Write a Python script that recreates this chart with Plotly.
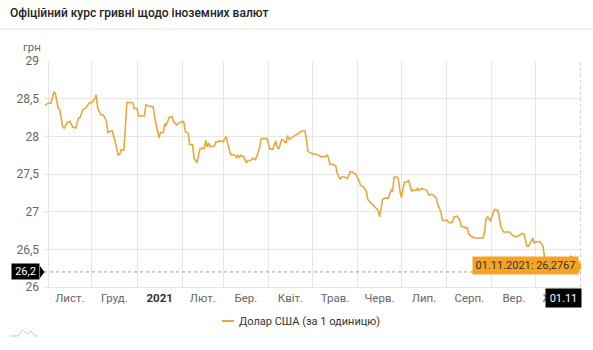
import plotly.graph_objects as go

# --- data: official UAH/USD rate ---
dates = [
    "2020-10-30", "2020-11-01", "2020-11-03", "2020-11-05", "2020-11-06", "2020-11-08",
    "2020-11-09", "2020-11-11", "2020-11-12", "2020-11-14", "2020-11-16", "2020-11-18",
    "2020-11-20", "2020-11-22", "2020-11-23", "2020-11-25", "2020-11-27", "2020-11-29",
    "2020-12-01", "2020-12-03", "2020-12-04", "2020-12-05", "2020-12-07", "2020-12-09",
    "2020-12-11", "2020-12-12", "2020-12-14", "2020-12-15", "2020-12-17", "2020-12-19",
    "2020-12-20", "2020-12-21", "2020-12-23", "2020-12-24", "2020-12-25", "2020-12-29",
    "2020-12-30", "2021-01-01", "2021-01-02", "2021-01-06", "2021-01-07", "2021-01-08",
    "2021-01-12", "2021-01-13", "2021-01-14", "2021-01-16", "2021-01-17", "2021-01-19",
    "2021-01-20", "2021-01-21", "2021-01-23", "2021-01-25", "2021-01-26", "2021-01-28",
    "2021-01-29", "2021-02-01", "2021-02-02", "2021-02-03", "2021-02-05", "2021-02-06",
    "2021-02-08", "2021-02-09", "2021-02-11", "2021-02-13", "2021-02-14", "2021-02-16",
    "2021-02-17", "2021-02-18", "2021-02-19", "2021-02-20", "2021-02-23", "2021-02-24",
    "2021-02-25", "2021-02-26", "2021-03-01", "2021-03-03", "2021-03-04", "2021-03-06",
    "2021-03-09", "2021-03-10", "2021-03-11", "2021-03-12", "2021-03-13", "2021-03-15",
    "2021-03-17", "2021-03-18", "2021-03-20", "2021-03-21", "2021-03-23", "2021-03-24",
    "2021-03-26", "2021-03-27", "2021-03-31", "2021-04-01", "2021-04-02", "2021-04-04",
    "2021-04-06", "2021-04-07", "2021-04-08", "2021-04-10", "2021-04-11", "2021-04-13",
    "2021-04-14", "2021-04-15", "2021-04-17", "2021-04-19", "2021-04-21", "2021-04-22",
    "2021-04-24", "2021-04-26", "2021-04-27", "2021-04-28", "2021-04-30", "2021-05-01",
    "2021-05-04", "2021-05-07", "2021-05-10", "2021-05-11", "2021-05-12", "2021-05-13",
    "2021-05-15", "2021-05-17", "2021-05-18", "2021-05-20", "2021-05-21", "2021-05-23",
    "2021-05-25", "2021-05-27", "2021-05-29", "2021-05-31", "2021-06-02", "2021-06-03",
    "2021-06-05", "2021-06-07", "2021-06-08", "2021-06-10", "2021-06-12", "2021-06-15",
    "2021-06-16", "2021-06-17", "2021-06-18", "2021-06-20", "2021-06-22", "2021-06-24",
    "2021-06-25", "2021-06-26", "2021-06-28", "2021-06-29", "2021-06-30", "2021-07-01",
    "2021-07-02", "2021-07-03", "2021-07-04", "2021-07-06", "2021-07-08", "2021-07-09",
    "2021-07-11", "2021-07-12", "2021-07-13", "2021-07-15", "2021-07-16", "2021-07-18",
    "2021-07-20", "2021-07-22", "2021-07-24", "2021-07-25", "2021-07-26", "2021-07-28",
    "2021-07-29", "2021-07-31", "2021-08-01", "2021-08-03", "2021-08-05", "2021-08-06",
    "2021-08-08", "2021-08-10", "2021-08-11", "2021-08-13", "2021-08-14", "2021-08-15",
    "2021-08-16", "2021-08-18", "2021-08-20", "2021-08-23", "2021-08-26", "2021-08-27",
    "2021-08-28", "2021-08-29", "2021-08-30", "2021-08-31", "2021-09-02", "2021-09-03",
    "2021-09-05", "2021-09-06", "2021-09-07", "2021-09-09", "2021-09-10", "2021-09-12",
    "2021-09-13", "2021-09-15", "2021-09-16", "2021-09-18", "2021-09-20", "2021-09-22",
    "2021-09-23", "2021-09-24", "2021-09-25", "2021-09-26", "2021-09-28", "2021-09-29",
    "2021-09-30", "2021-10-01", "2021-10-03", "2021-10-04", "2021-10-06", "2021-10-07",
    "2021-10-09", "2021-10-12", "2021-10-15", "2021-10-17", "2021-10-20", "2021-10-23",
    "2021-10-25", "2021-10-27", "2021-10-29", "2021-11-01",
]
usd_rate = [
    28.41, 28.44, 28.44, 28.59, 28.57, 28.37,
    28.36, 28.13, 28.11, 28.18, 28.20, 28.12,
    28.11, 28.25, 28.25, 28.36, 28.38, 28.44,
    28.45, 28.50, 28.55, 28.38, 28.29, 28.28,
    28.20, 28.05, 28.07, 28.07, 27.93, 27.75,
    27.76, 27.82, 27.82, 28.11, 28.45, 28.45,
    28.37, 28.37, 28.27, 28.27, 28.42, 28.41,
    28.39, 28.26, 28.15, 27.98, 28.05, 28.05,
    28.17, 28.15, 28.25, 28.26, 28.20, 28.15,
    28.17, 28.20, 28.19, 28.06, 28.04, 27.89,
    27.89, 27.71, 27.65, 27.83, 27.84, 27.84,
    27.95, 27.86, 27.91, 27.86, 27.87, 27.93,
    27.92, 27.94, 27.93, 28.00, 27.91, 27.76,
    27.75, 27.72, 27.75, 27.72, 27.75, 27.73,
    27.65, 27.68, 27.68, 27.71, 27.69, 27.73,
    27.86, 27.97, 27.97, 27.91, 27.83, 27.83,
    27.94, 27.86, 27.83, 27.96, 27.95, 27.91,
    28.01, 27.96, 27.99, 28.01, 28.03, 28.05,
    28.07, 28.07, 27.95, 27.80, 27.78, 27.77,
    27.76, 27.73, 27.73, 27.75, 27.72, 27.63,
    27.63, 27.61, 27.51, 27.43, 27.46, 27.46,
    27.44, 27.53, 27.52, 27.49, 27.41, 27.35,
    27.33, 27.27, 27.16, 27.12, 27.09, 27.02,
    26.93, 27.02, 27.16, 27.18, 27.18, 27.29,
    27.27, 27.46, 27.46, 27.43, 27.27, 27.19,
    27.29, 27.39, 27.39, 27.41, 27.27, 27.29,
    27.28, 27.31, 27.28, 27.31, 27.30, 27.29,
    27.22, 27.23, 27.20, 27.18, 27.09, 27.00,
    26.89, 26.88, 26.89, 26.85, 26.86, 26.93,
    26.94, 26.89, 26.80, 26.80, 26.78, 26.79,
    26.71, 26.67, 26.65, 26.65, 26.65, 26.73,
    26.91, 26.93, 26.91, 26.87, 27.00, 27.03,
    27.02, 26.93, 26.80, 26.73, 26.73, 26.72,
    26.73, 26.69, 26.67, 26.67, 26.69, 26.71,
    26.70, 26.62, 26.54, 26.54, 26.62, 26.65,
    26.58, 26.60, 26.60, 26.60, 26.54, 26.40,
    26.38, 26.36, 26.33, 26.30, 26.32, 26.36,
    26.41, 26.38, 26.30, 26.2767,
]

series_name = "Долар США (за 1 одиницю)"
title_text = "Офіційний курс гривні щодо іноземних валют"
y_unit = "грн"

# month labels sit in the middle of each month, grid lines at month starts
month_label_dates = [
    "2020-11-16", "2020-12-16 12:00", "2021-01-16 12:00", "2021-02-15",
    "2021-03-16 12:00", "2021-04-16", "2021-05-16 12:00", "2021-06-16",
    "2021-07-16 12:00", "2021-08-16 12:00", "2021-09-16", "2021-10-16 12:00",
]
month_labels = [
    "Лист.", "Груд.", "<span style='color:#333'><b>2021</b></span>", "Лют.",
    "Бер.", "Квіт.", "Трав.", "Черв.", "Лип.", "Серп.", "Вер.", "Жовт.",
]
month_starts = [
    "2020-11-01", "2020-12-01", "2021-01-01", "2021-02-01", "2021-03-01",
    "2021-04-01", "2021-05-01", "2021-06-01", "2021-07-01", "2021-08-01",
    "2021-09-01", "2021-10-01",
]
y_ticks = [26, 26.5, 27, 27.5, 28, 28.5, 29]

crosshair_y = 26.2
hover_date = dates[-1]
hover_value = usd_rate[-1]

# --- styling ---
LINE = "#E9A83A"
TOOLTIP = "#F7A325"
GRID = "#E6E6E6"
FONT = "Roboto"

W, H = 593, 350
PL, PR, PT, PB = 44, 581, 61, 287


def px(x):
    return (x - PL) / (PR - PL)


def py(y):
    return (PB - y) / (PB - PT)


fig = go.Figure()
fig.add_trace(go.Scatter(
    x=dates, y=usd_rate, mode="lines", name=series_name,
    line=dict(color=LINE, width=1.6), showlegend=False, hoverinfo="skip",
))

shapes = [
    # separator under the header
    dict(type="line", xref="paper", yref="paper", x0=px(0), x1=px(W),
         y0=py(29), y1=py(29), line=dict(color="#E4E4E4", width=1)),
    # crosshair lines
    dict(type="line", xref="paper", yref="y", x0=0, x1=1,
         y0=crosshair_y, y1=crosshair_y, line=dict(color="#9A9A9A", width=1, dash="dot")),
    dict(type="line", xref="x", yref="paper", x0=hover_date, x1=hover_date,
         y0=0, y1=1, line=dict(color="#9A9A9A", width=1, dash="dot")),
    # pointer of the y crosshair label
    dict(type="path", xref="paper", yref="y", ysizemode="pixel", yanchor=crosshair_y,
         path=f"M {px(40)},-6 L {px(44.5)},0 L {px(40)},6 Z",
         fillcolor="#000", line=dict(width=0)),
    # pointer of the tooltip
    dict(type="path", xref="x", yref="y", xsizemode="pixel", ysizemode="pixel",
         xanchor=hover_date, yanchor=hover_value,
         path="M -3,-6 L 2,0 L -3,6 Z", fillcolor=TOOLTIP, line=dict(width=0)),
    # legend sample
    dict(type="line", xref="paper", yref="paper", x0=px(222), x1=px(234),
         y0=py(321), y1=py(321), line=dict(color=LINE, width=2)),
    # small logo mark, bottom left
    dict(type="path", xref="paper", yref="paper",
         path=("M {},{} L {},{} L {},{} L {},{} L {},{} L {},{} L {},{}").format(
             px(10), py(336), px(18), py(336), px(23), py(330), px(27), py(334),
             px(31), py(331), px(35), py(336), px(38), py(336)),
         line=dict(color="#C8C8C8", width=1)),
]

annotations = [
    dict(text=title_text, xref="paper", yref="paper", x=px(8), y=py(13),
         xanchor="left", yanchor="middle", showarrow=False,
         font=dict(family=FONT, size=12, color="#222", weight=500)),
    dict(text=y_unit, xref="paper", yref="paper", x=px(21), y=py(47.5),
         xanchor="left", yanchor="middle", showarrow=False,
         font=dict(family=FONT, size=11.5, color="#666")),
    # y crosshair label
    dict(text="26,2", xref="paper", yref="y", x=px(40), y=crosshair_y,
         xanchor="right", yanchor="middle", showarrow=False,
         bgcolor="#000", width=27, height=15, borderpad=0,
         font=dict(family=FONT, size=11, color="#fff")),
    # x crosshair label
    dict(text="01.11", xref="x", yref="paper", x=hover_date, y=py(288),
         xanchor="right", yanchor="top", xshift=1, showarrow=False,
         bgcolor="#000", width=35, height=18, borderpad=0,
         font=dict(family=FONT, size=11, color="#fff")),
    # tooltip
    dict(text="01.11.2021: 26,2767", xref="x", yref="y", x=hover_date, y=hover_value,
         xanchor="right", yanchor="middle", xshift=-2, yshift=1, showarrow=False,
         bgcolor=TOOLTIP, width=105, height=17, borderpad=0,
         font=dict(family=FONT, size=11, color="#333")),
    # legend text
    dict(text=series_name, xref="paper", yref="paper", x=px(237), y=py(321),
         xanchor="left", yanchor="middle", showarrow=False,
         font=dict(family=FONT, size=11, color="#333")),
]

fig.update_layout(
    width=W, height=H,
    margin=dict(l=PL, r=W - PR, t=PT, b=H - PB, pad=0),
    paper_bgcolor="#fff", plot_bgcolor="#fff",
    separators=", ",
    font=dict(family=FONT, size=12, color="#666"),
    showlegend=False,
    shapes=shapes,
    annotations=annotations,
    xaxis=dict(
        type="date", range=["2020-10-29 06:00", "2021-11-01"],
        tickmode="array", tickvals=month_label_dates, ticktext=month_labels,
        showgrid=False, ticks="", zeroline=False,
        showline=True, linecolor=GRID, linewidth=1,
        tickfont=dict(family=FONT, size=11.5, color="#666"),
        minor=dict(tickmode="array", tickvals=month_starts, showgrid=True,
                   gridcolor=GRID, gridwidth=1, ticks=""),
        fixedrange=True,
    ),
    yaxis=dict(
        range=[26, 29], tickmode="array", tickvals=y_ticks,
        showgrid=True, gridcolor=GRID, gridwidth=1, zeroline=False,
        ticks="", ticklabelstandoff=4,
        tickfont=dict(family=FONT, size=12, color="#666"),
        fixedrange=True,
    ),
)

fig.write_html("out.html", config={"displayModeBar": False})
